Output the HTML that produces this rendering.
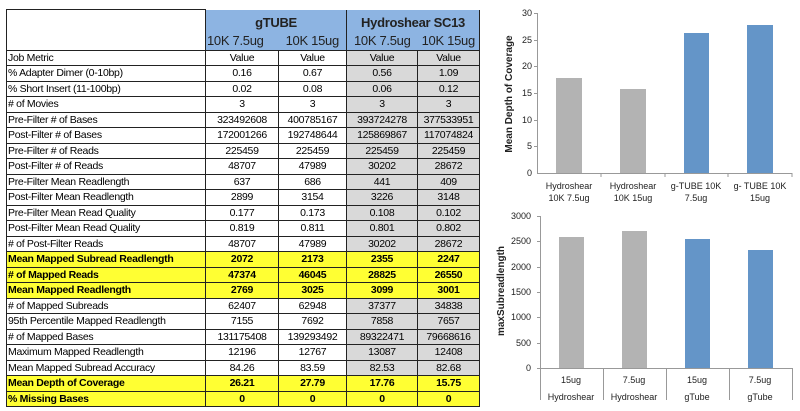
<!DOCTYPE html>
<html><head><style>
body{margin:0;width:800px;height:411px;background:#fff;position:relative;overflow:hidden;font-family:"Liberation Sans",sans-serif}
table{position:absolute;left:6px;top:9px;border-collapse:collapse;font-size:10.5px;letter-spacing:-0.3px}
td{border:1px solid #222;height:14.5px;padding:0 1px;line-height:14px;text-align:center;white-space:nowrap}
td:first-child{text-align:left}
.h td{border:none;background:#8db4e2;font-size:13px;color:#222}
.h td.e{background:#fff;border-left:1px solid #222;border-top:1px solid #222}
.g{background:#d9d9d9}
.y td{background:#ffff33;font-weight:bold}
.y td.g{background:#ffff33}
</style></head><body>
<table>
<colgroup><col style="width:199px"><col style="width:73px"><col style="width:68px"><col style="width:71px"><col style="width:62px"></colgroup>
<tr class="h"><td class="e" rowspan="2" style="border-right:1px solid #222;border-bottom:1px solid #222"></td><td colspan="2" style="height:18px;font-weight:bold;padding-top:4px">gTUBE</td><td colspan="2" style="font-weight:bold;border-left:1px solid #222;border-right:1px solid #222;padding-top:4px">Hydroshear SC13</td></tr>
<tr class="h"><td style="height:18px">10K 7.5ug</td><td>10K 15ug</td><td style="border-left:1px solid #222">10K 7.5ug</td><td style="border-right:1px solid #222">10K 15ug</td></tr>
<tr><td>Job Metric</td><td>Value</td><td>Value</td><td class="g">Value</td><td class="g">Value</td></tr>
<tr><td>% Adapter Dimer (0-10bp)</td><td>0.16</td><td>0.67</td><td class="g">0.56</td><td class="g">1.09</td></tr>
<tr><td>% Short Insert (11-100bp)</td><td>0.02</td><td>0.08</td><td class="g">0.06</td><td class="g">0.12</td></tr>
<tr><td># of Movies</td><td>3</td><td>3</td><td class="g">3</td><td class="g">3</td></tr>
<tr><td>Pre-Filter # of Bases</td><td>323492608</td><td>400785167</td><td class="g">393724278</td><td class="g">377533951</td></tr>
<tr><td>Post-Filter # of Bases</td><td>172001266</td><td>192748644</td><td class="g">125869867</td><td class="g">117074824</td></tr>
<tr><td>Pre-Filter # of Reads</td><td>225459</td><td>225459</td><td class="g">225459</td><td class="g">225459</td></tr>
<tr><td>Post-Filter # of Reads</td><td>48707</td><td>47989</td><td class="g">30202</td><td class="g">28672</td></tr>
<tr><td>Pre-Filter Mean Readlength</td><td>637</td><td>686</td><td class="g">441</td><td class="g">409</td></tr>
<tr><td>Post-Filter Mean Readlength</td><td>2899</td><td>3154</td><td class="g">3226</td><td class="g">3148</td></tr>
<tr><td>Pre-Filter Mean Read Quality</td><td>0.177</td><td>0.173</td><td class="g">0.108</td><td class="g">0.102</td></tr>
<tr><td>Post-Filter Mean Read Quality</td><td>0.819</td><td>0.811</td><td class="g">0.801</td><td class="g">0.802</td></tr>
<tr><td># of Post-Filter Reads</td><td>48707</td><td>47989</td><td class="g">30202</td><td class="g">28672</td></tr>
<tr class="y"><td>Mean Mapped Subread Readlength</td><td>2072</td><td>2173</td><td>2355</td><td>2247</td></tr>
<tr class="y"><td># of Mapped Reads</td><td>47374</td><td>46045</td><td>28825</td><td>26550</td></tr>
<tr class="y"><td>Mean Mapped Readlength</td><td>2769</td><td>3025</td><td>3099</td><td>3001</td></tr>
<tr><td># of Mapped Subreads</td><td>62407</td><td>62948</td><td class="g">37377</td><td class="g">34838</td></tr>
<tr><td>95th Percentile Mapped Readlength</td><td>7155</td><td>7692</td><td class="g">7858</td><td class="g">7657</td></tr>
<tr><td># of Mapped Bases</td><td>131175408</td><td>139293492</td><td class="g">89322471</td><td class="g">79668616</td></tr>
<tr><td>Maximum Mapped Readlength</td><td>12196</td><td>12767</td><td class="g">13087</td><td class="g">12408</td></tr>
<tr><td>Mean Mapped Subread Accuracy</td><td>84.26</td><td>83.59</td><td class="g">82.53</td><td class="g">82.68</td></tr>
<tr class="y"><td>Mean Depth of Coverage</td><td>26.21</td><td>27.79</td><td>17.76</td><td>15.75</td></tr>
<tr class="y"><td>% Missing Bases</td><td>0</td><td>0</td><td>0</td><td>0</td></tr>
</table>
<svg style="position:absolute;left:0;top:0" width="800" height="411" font-family="Liberation Sans,sans-serif" font-size="9" fill="#222">
<g stroke="#999" stroke-width="1">
<line x1="537.5" y1="13" x2="537.5" y2="173"/><line x1="537" y1="173.5" x2="792" y2="173.5"/>
<line x1="534" y1="13.5" x2="537" y2="13.5"/><line x1="534" y1="40.5" x2="537" y2="40.5"/><line x1="534" y1="66.5" x2="537" y2="66.5"/><line x1="534" y1="93.5" x2="537" y2="93.5"/><line x1="534" y1="120.5" x2="537" y2="120.5"/><line x1="534" y1="146.5" x2="537" y2="146.5"/>
<line x1="601" y1="173" x2="601" y2="177"/><line x1="665" y1="173" x2="665" y2="177"/><line x1="728" y1="173" x2="728" y2="177"/><line x1="792" y1="173" x2="792" y2="177"/>
</g>
<g text-anchor="end"><text x="532" y="16">30</text><text x="532" y="43">25</text><text x="532" y="69">20</text><text x="532" y="96">15</text><text x="532" y="123">10</text><text x="532" y="149">5</text><text x="532" y="176">0</text></g>
<rect x="556" y="78" width="26" height="95" fill="#b3b3b3"/>
<rect x="620" y="89" width="26" height="84" fill="#b3b3b3"/>
<rect x="684" y="33" width="25" height="140" fill="#6495c8"/>
<rect x="747" y="25" width="26" height="148" fill="#6495c8"/>
<g text-anchor="middle"><text x="569" y="189">Hydroshear</text><text x="569" y="201">10K 7.5ug</text><text x="633" y="189">Hydroshear</text><text x="633" y="201">10K 15ug</text><text x="696" y="189">g-TUBE 10K</text><text x="696" y="201">7.5ug</text><text x="760" y="189">g- TUBE 10K</text><text x="760" y="201">15ug</text></g>
<text transform="translate(512,94) rotate(-90)" text-anchor="middle" font-weight="bold" font-size="10">Mean Depth of Coverage</text>
<g stroke="#999" stroke-width="1">
<line x1="540.5" y1="216" x2="540.5" y2="400"/><line x1="537" y1="368.5" x2="792" y2="368.5"/>
<line x1="603.5" y1="368" x2="603.5" y2="400"/><line x1="666.5" y1="368" x2="666.5" y2="400"/><line x1="729.5" y1="368" x2="729.5" y2="400"/><line x1="792.5" y1="368" x2="792.5" y2="400"/>
<line x1="537" y1="216.5" x2="540" y2="216.5"/><line x1="537" y1="241.5" x2="540" y2="241.5"/><line x1="537" y1="267.5" x2="540" y2="267.5"/><line x1="537" y1="292.5" x2="540" y2="292.5"/><line x1="537" y1="317.5" x2="540" y2="317.5"/><line x1="537" y1="343.5" x2="540" y2="343.5"/>
</g>
<g text-anchor="end"><text x="531" y="219">3000</text><text x="531" y="244">2500</text><text x="531" y="270">2000</text><text x="531" y="295">1500</text><text x="531" y="320">1000</text><text x="531" y="346">500</text><text x="531" y="371">0</text></g>
<rect x="559" y="237" width="25" height="131" fill="#b3b3b3"/>
<rect x="622" y="231" width="25" height="137" fill="#b3b3b3"/>
<rect x="685" y="239" width="25" height="129" fill="#6495c8"/>
<rect x="748" y="250" width="25" height="118" fill="#6495c8"/>
<g text-anchor="middle"><text x="571" y="383">15ug</text><text x="571" y="400">Hydroshear</text><text x="634" y="383">7.5ug</text><text x="634" y="400">Hydroshear</text><text x="697" y="383">15ug</text><text x="697" y="400">gTube</text><text x="760" y="383">7.5ug</text><text x="760" y="400">gTube</text></g>
<text transform="translate(504,291) rotate(-90)" text-anchor="middle" font-weight="bold" font-size="10">maxSubreadlength</text>
</svg>
</body></html>
